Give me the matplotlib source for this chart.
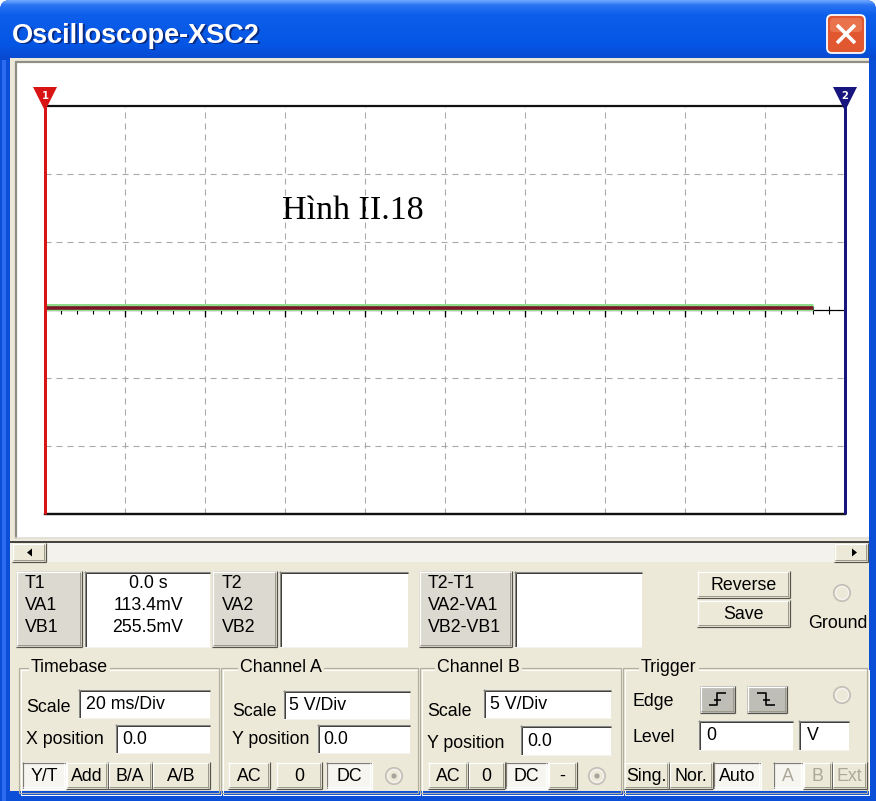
import matplotlib
matplotlib.use("Agg")
import matplotlib.pyplot as plt
import matplotlib.transforms as mtransforms
from matplotlib.patches import Rectangle, FancyBboxPatch, Circle
from matplotlib.colors import LinearSegmentedColormap
from matplotlib.ticker import MultipleLocator
import numpy as np

plt.rcParams['lines.scale_dashes'] = False

W, H = 876, 801
DPI = 100

WINDOW_TITLE = "Oscilloscope-XSC2"
CAPTION = "Hình II.18"

# display settings
TIME_PER_DIV_MS = 20
VOLTS_PER_DIV = 5
N_XDIV = 10
N_YDIV = 6
MINOR_PER_DIV = 5

# captured traces (time in ms, voltage in V)
trace_t_ms = [0.0, 192.0]
channel_a_v = [0.1134, 0.1134]
channel_b_v = [0.2555, 0.2555]

# cursors (ms)
cursor_t_ms = [0.0, 200.0]
cursor_names = ["1", "2"]
cursor_colors = ["#D81414", "#16167E"]

# readout panel
readout_labels_1 = ["T1", "VA1", "VB1"]
readout_values_1 = ["0.0 s", "113.4mV", "255.5mV"]
readout_labels_2 = ["T2", "VA2", "VB2"]
readout_labels_d = ["T2-T1", "VA2-VA1", "VB2-VB1"]

timebase_scale = "20 ms/Div"
x_position = "0.0"
chan_a_scale = "5 V/Div"
chan_a_ypos = "0.0"
chan_b_scale = "5 V/Div"
chan_b_ypos = "0.0"
trigger_level = "0"
trigger_unit = "V"

timebase_modes = ["Y/T", "Add", "B/A", "A/B"]
chan_a_coupling = ["AC", "0", "DC"]
chan_b_coupling = ["AC", "0", "DC", "-"]
trigger_modes = ["Sing.", "Nor.", "Auto"]
trigger_sources = ["A", "B", "Ext"]

BEIGE = "#ECE9D8"
FRAME_BLUE = "#0B4FD8"
UI_FONT = ["Liberation Sans", "DejaVu Sans"]
UI_FS = 12.8


def pt(px):
    return px * 72.0 / DPI


fig = plt.figure(figsize=(W / DPI, H / DPI), dpi=DPI)
fig.patch.set_facecolor("white")
ui = fig.add_axes([0, 0, 1, 1])
ui.set_xlim(0, W)
ui.set_ylim(H, 0)
ui.axis("off")


def rect(x0, y0, x1, y1, fc, ec="none", lw=0.0, z=1):
    p = Rectangle((x0, y0), x1 - x0, y1 - y0, fc=fc, ec=ec, lw=lw, zorder=z)
    ui.add_patch(p)
    return p


def seg(xs, ys, color, lw=1.0, z=3):
    ui.plot(xs, ys, color=color, lw=pt(lw), zorder=z, solid_capstyle="butt")


def bevel(x0, y0, x1, y1, fc, style="raised", z=2):
    rect(x0, y0, x1, y1, fc, z=z)
    if style == "raised":
        tl, br, br2 = "#FFFFFF", "#9D9A8C", "#55534B"
    else:
        tl, br, br2 = "#7E7C72", "#FFFFFF", "#FFFFFF"
    seg([x0, x1], [y0 + 0.5, y0 + 0.5], tl, 1.2, z + 0.1)
    seg([x0 + 0.5, x0 + 0.5], [y0, y1], tl, 1.2, z + 0.1)
    seg([x0, x1], [y1 - 0.5, y1 - 0.5], br2, 1.2, z + 0.1)
    seg([x1 - 0.5, x1 - 0.5], [y0, y1], br2, 1.2, z + 0.1)
    seg([x0 + 1, x1 - 1.5], [y1 - 1.8, y1 - 1.8], br, 1.0, z + 0.1)
    seg([x1 - 1.8, x1 - 1.8], [y0 + 1, y1 - 1.5], br, 1.0, z + 0.1)


def field(x0, y0, x1, y1, text=None, tx=None):
    rect(x0, y0, x1, y1, "white", z=2)
    seg([x0, x1], [y0 + 0.5, y0 + 0.5], "#8A877B", 1.4, 2.1)
    seg([x0 + 0.5, x0 + 0.5], [y0, y1], "#8A877B", 1.4, 2.1)
    seg([x0 + 1.5, x1], [y0 + 2, y0 + 2], "#404040", 1.0, 2.1)
    seg([x0 + 2, x0 + 2], [y0 + 1.5, y1], "#404040", 1.0, 2.1)
    seg([x0, x1], [y1 - 0.5, y1 - 0.5], "#F4F3EE", 1.0, 2.1)
    if text is not None:
        ui.text(tx if tx is not None else x0 + 7, (y0 + y1) / 2 + 1, text,
                fontsize=UI_FS, family=UI_FONT, va="center", ha="left", zorder=4)


def label(x, y, s, ha="left", color="black", size=UI_FS):
    ui.text(x, y, s, fontsize=size, family=UI_FONT, va="center", ha=ha,
            color=color, zorder=4)


def button(x0, y0, x1, y1, text, pressed=False, disabled=False):
    bevel(x0, y0, x1, y1, "#F6F5EF" if pressed else BEIGE,
          "sunken" if pressed else "raised")
    label((x0 + x1) / 2, (y0 + y1) / 2 + 1, text, ha="center",
          color="#ACA899" if disabled else "black")


def radio(cx, cy, dot=False):
    ui.add_patch(Circle((cx, cy), 8, fc="none", ec="#C4C2B8", lw=pt(2.2), zorder=4))
    ui.add_patch(Circle((cx, cy), 6.5, fc="none", ec="#F4F3EE", lw=pt(1.5), zorder=4))
    if dot:
        ui.add_patch(Circle((cx, cy), 2.6, fc="#A8A69C", ec="none", zorder=5))


def group(x0, x1, title, tx):
    y = 668
    ui.add_patch(Rectangle((x0, y), x1 - x0, 125, fc="none", ec="#B3AF9F",
                           lw=pt(1.2), zorder=1.5))
    ui.add_patch(Rectangle((x0 + 1.5, y + 1.5), x1 - x0, 125, fc="none", ec="white",
                           lw=pt(1.0), zorder=1.4))
    ui.text(tx, y, title, fontsize=UI_FS, family=UI_FONT, va="center", ha="left",
            zorder=4, bbox=dict(fc=BEIGE, ec="none", pad=1.5))


# ---- window frame and title bar ----
title_shape = FancyBboxPatch((0, 0), W, 70, boxstyle="round,pad=0,rounding_size=10",
                             fc=FRAME_BLUE, ec="none", zorder=0.5)
ui.add_patch(title_shape)
rect(0, 30, W, H, FRAME_BLUE, z=0.5)
rect(2, 30, 6, H, "#2D6CF0", z=0.6)
grad_cmap = LinearSegmentedColormap.from_list(
    "xp_title",
    [(0.0, "#6FA8FF"), (0.08, "#2A74F4"), (0.25, "#0D5EEA"),
     (0.75, "#0556E4"), (1.0, "#0A49CF")])
grad = np.linspace(0, 1, 120).reshape(-1, 1)
im = ui.imshow(grad, cmap=grad_cmap, extent=[0, W, 60, 0], aspect="auto", zorder=0.7)
im.set_clip_path(title_shape)
ui.set_xlim(0, W)
ui.set_ylim(H, 0)

title_font = ["Liberation Sans Narrow", "Liberation Sans", "DejaVu Sans"]
ui.text(13.5, 37.5, WINDOW_TITLE, fontsize=19.5, fontweight="bold", family=title_font,
        color="#0A2A80", va="center", ha="left", zorder=2)
ui.text(12, 36, WINDOW_TITLE, fontsize=19.5, fontweight="bold", family=title_font,
        color="white", va="center", ha="left", zorder=2.1)

close_btn = FancyBboxPatch((827, 15), 38, 38, boxstyle="round,pad=0,rounding_size=5",
                           fc="#E1572F", ec="white", lw=pt(1.8), zorder=2)
ui.add_patch(close_btn)
ui.add_patch(FancyBboxPatch((830, 18), 32, 14, boxstyle="round,pad=0,rounding_size=4",
                            fc="#EE8660", ec="none", alpha=0.6, zorder=2.05))
seg([837, 855], [25, 43], "white", 3.6, 2.2)
seg([837, 855], [43, 25], "white", 3.6, 2.2)

# ---- client area ----
rect(10, 58, 869, 791, BEIGE, z=0.8)

# scope screen frame
rect(15, 61, 869, 539, "white", z=1)
seg([15, 869], [62, 62], "#8F8D86", 2.2, 1.2)
seg([16, 16], [61, 539], "#8F8D86", 2.2, 1.2)
seg([15, 869], [538, 538], "#DAD8CF", 1.5, 1.2)

# scrollbar
rect(10, 541, 869, 562, "#F3F2EC", z=1)
seg([10, 869], [541.5, 541.5], "#1A1A1A", 1.6, 1.3)
bevel(12, 543, 46, 562, BEIGE)
bevel(834, 543, 868, 562, BEIGE)
ui.add_patch(plt.Polygon([[27, 552.5], [32, 548.5], [32, 556.5]], fc="black", zorder=4))
ui.add_patch(plt.Polygon([[857, 552.5], [852, 548.5], [852, 556.5]], fc="black", zorder=4))

# ---- readout row ----
row_y = [584, 606, 628]
bevel(16, 571, 82, 647, "#DCD9D0")
field(84, 571, 210, 647)
for yy, s in zip(row_y, readout_labels_1):
    label(25, yy, s)
for yy, s in zip(row_y, readout_values_1):
    label(148, yy, s, ha="center")

bevel(212, 571, 277, 647, "#DCD9D0")
field(279, 571, 408, 647)
for yy, s in zip(row_y, readout_labels_2):
    label(222, yy, s)

bevel(419, 571, 512, 647, "#DCD9D0")
field(514, 571, 642, 647)
for yy, s in zip(row_y, readout_labels_d):
    label(428, yy, s)

button(697, 571, 790, 598, "Reverse")
button(697, 600, 790, 627, "Save")
radio(842, 593)
label(838, 623, "Ground", ha="center")

# ---- control groups ----
group(19, 219, "Timebase", 31)
group(221, 418, "Channel A", 240)
group(420, 621, "Channel B", 437)
group(623, 867, "Trigger", 641)

# timebase
label(26, 708, "Scale")
field(78, 689, 210, 718, timebase_scale, 86)
label(26, 740, "X position")
field(115, 724, 210, 753, x_position, 122)
tb_edges = [22, 66, 108, 152, 210]
for i, s in enumerate(timebase_modes):
    button(tb_edges[i], 762, tb_edges[i + 1], 789, s, pressed=(i == 0))

# channel A
label(232, 711, "Scale")
field(283, 690, 410, 719, chan_a_scale, 289)
label(232, 740, "Y position")
field(317, 724, 410, 753, chan_a_ypos, 323)
ca_edges = [(228, 270), (276, 322), (326, 372)]
for (a, b), s in zip(ca_edges, chan_a_coupling):
    button(a, 762, b, 789, s, pressed=(s == "DC"))
radio(394, 776, dot=True)

# channel B
label(427, 711, "Scale")
field(483, 689, 611, 718, chan_b_scale, 490)
label(427, 743, "Y position")
field(520, 725, 611, 755, chan_b_ypos, 527)
cb_edges = [(428, 468), (468, 505), (505, 548), (548, 577)]
for (a, b), s in zip(cb_edges, chan_b_coupling):
    button(a, 762, b, 789, s, pressed=(s == "DC"))
radio(597, 776, dot=True)

# trigger
label(633, 702, "Edge")
bevel(700, 686, 735, 713, "#BEBDB6")
bevel(747, 686, 787, 713, "#BEBDB6")
seg([709, 717, 717, 726], [705, 705, 693, 693], "black", 1.6, 4)
seg([713.5, 720.5], [699.5, 699.5], "black", 1.6, 4)
seg([757, 766, 766, 775], [693, 693, 705, 705], "black", 1.6, 4)
seg([762.5, 769.5], [699.5, 699.5], "black", 1.6, 4)
radio(842, 695)
label(633, 737, "Level")
field(698, 720, 793, 750, trigger_level, 706)
field(798, 720, 849, 750, trigger_unit, 807)
tm_edges = [(624, 669), (669, 713), (713, 761)]
for (a, b), s in zip(tm_edges, trigger_modes):
    button(a, 762, b, 789, s, pressed=(s == "Auto"))
ts_edges = [(773, 803), (803, 832), (832, 867)]
for (a, b), s in zip(ts_edges, trigger_sources):
    button(a, 762, b, 789, s, pressed=(s == "A"), disabled=True)

# ---- scope display ----
gx0, gx1, gy0, gy1 = 45, 845, 106, 514
ax = fig.add_axes([gx0 / W, 1 - gy1 / H, (gx1 - gx0) / W, (gy1 - gy0) / H])
ax.set_facecolor("none")
t_max = TIME_PER_DIV_MS * N_XDIV
v_half = VOLTS_PER_DIV * N_YDIV / 2
ax.set_xlim(0, t_max)
ax.set_ylim(-v_half, v_half)
ax.xaxis.set_major_locator(MultipleLocator(TIME_PER_DIV_MS))
ax.xaxis.set_minor_locator(MultipleLocator(TIME_PER_DIV_MS / MINOR_PER_DIV))
ax.yaxis.set_major_locator(MultipleLocator(VOLTS_PER_DIV))
ax.grid(True, which="major", color="#A9A9A9", lw=pt(1.1), linestyle=(0, (pt(6), pt(5))))
ax.set_axisbelow(True)
for side in ("left", "right"):
    ax.spines[side].set_visible(False)
ax.spines["top"].set_linewidth(pt(2.2))
ax.spines["top"].set_color("#111111")
ax.spines["bottom"].set_position(("data", 0))
ax.spines["bottom"].set_linewidth(pt(1.2))
ax.spines["bottom"].set_color("black")
ax.tick_params(axis="x", which="major", direction="inout", length=pt(13), width=pt(1.3),
               color="black", labelbottom=False)
ax.tick_params(axis="x", which="minor", direction="inout", length=pt(8), width=pt(1.1),
               color="black")
ax.tick_params(axis="y", which="both", length=0, labelleft=False)
ax.axhline(-v_half, color="#111111", lw=pt(2.4), clip_on=False, zorder=2.6)

ax.plot(trace_t_ms, channel_b_v, color="#8EDD8A", lw=pt(7), zorder=3,
        solid_capstyle="butt")
ax.plot(trace_t_ms, channel_a_v, color="#7A1628", lw=pt(3.6), zorder=3.1,
        solid_capstyle="butt")

for t, name, c in zip(cursor_t_ms, cursor_names, cursor_colors):
    ax.plot([t, t], [-v_half, v_half], color=c, lw=pt(3), clip_on=False, zorder=4,
            solid_capstyle="butt")
    up = mtransforms.offset_copy(ax.transData, fig=fig, x=0, y=pt(7), units="points")
    ax.plot([t], [v_half], marker="v", markersize=pt(24), color=c, clip_on=False,
            zorder=5, markeredgewidth=0, transform=up)
    lab = mtransforms.offset_copy(ax.transData, fig=fig, x=0, y=pt(10), units="points")
    ax.text(t, v_half, name, transform=lab, color="white", fontsize=pt(10),
            fontweight="bold", ha="center", va="center", zorder=6, clip_on=False,
            family="DejaVu Sans")

ui.text(353, 211, CAPTION, fontsize=24.5, family=["Liberation Serif", "DejaVu Serif"],
        ha="center", va="center", zorder=5)

fig.savefig("out.png", dpi=DPI)
